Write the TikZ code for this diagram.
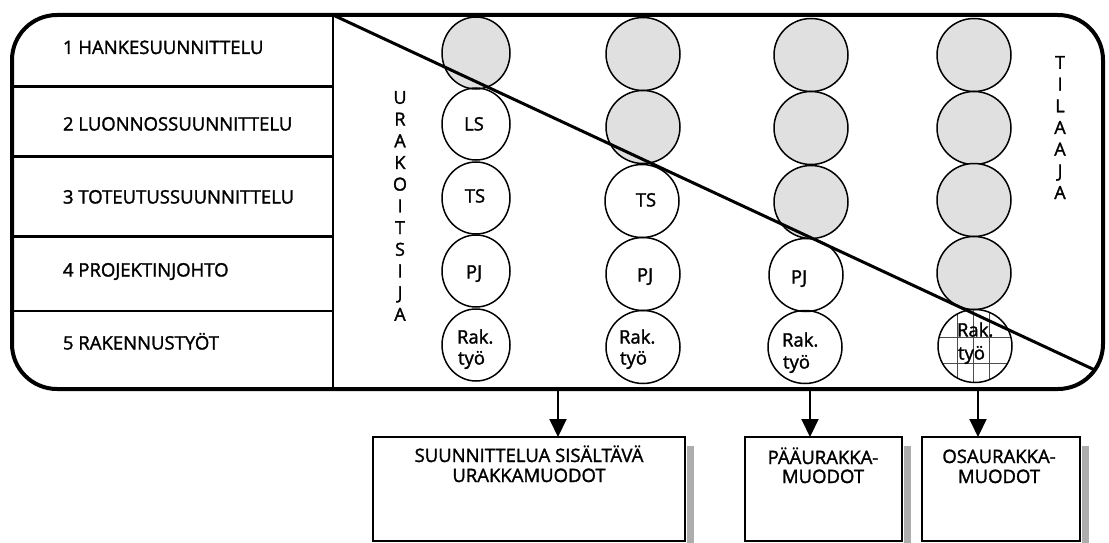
\documentclass[tikz,border=0pt]{standalone}
\usepackage{fontspec}
\setmainfont{Open Sans}[FakeBold=1.6]
\usetikzlibrary{shapes.geometric,arrows.meta}
\definecolor{shade}{gray}{0.88}
\definecolor{shadow}{gray}{0.68}
\begin{document}
\begin{tikzpicture}[x=1pt,y=-1pt,
  txt/.style={font=\fontsize{18.5}{21.7}\selectfont, inner sep=0pt, outer sep=0pt, text height=13pt, text depth=0pt},
  btxt/.style={font=\fontsize{18.5}{21.7}\selectfont, inner sep=0pt, outer sep=0pt, anchor=base},
  vtxt/.style={font=\fontsize{18}{21.7}\selectfont, inner sep=0pt, outer sep=0pt, align=center, anchor=north},
  ball/.style={draw, ellipse, line width=1.5pt, minimum width=74pt, minimum height=73pt, inner sep=0pt, outer sep=0pt},
  nball/.style={ball, minimum width=68pt, minimum height=72pt},
  gball/.style={ball, fill=shade},
  gnball/.style={nball, fill=shade},
  rowline/.style={line width=2.2pt},
  diag/.style={line width=3pt},
  outbox/.style={draw, line width=2.5pt, fill=white, inner sep=0pt, outer sep=0pt, minimum height=104pt},
  arr/.style={line width=2pt, -{Triangle[length=18pt,width=17pt]}},
  gridl/.style={line width=0.9pt, black!70}
]
\useasboundingbox (0,0) rectangle (1109,543);

% left column rows
\draw[rowline] (12,86.5) -- (333,86.5);
\draw[rowline] (12,156.5) -- (333,156.5);
\draw[rowline] (12,236.5) -- (333,236.5);
\draw[rowline] (12,311) -- (333,311);
\draw[rowline] (333,15) -- (333,389);

\node[txt, anchor=west] (l1) at (63,47.5) {1 HANKESUUNNITTELU};
\node[txt, anchor=west] (l2) at (63,124) {2 LUONNOSSUUNNITTELU};
\node[txt, anchor=west] (l3) at (63,197) {3 TOTEUTUSSUUNNITTELU};
\node[txt, anchor=west] (l4) at (63,270) {4 PROJEKTINJOHTO};
\node[txt, anchor=west] (l5) at (63,343) {5 RAKENNUSTYÖT};

% vertical words
\node[vtxt] (urak) at (400,91) {U\\R\\A\\K\\O\\I\\T\\S\\I\\J\\A};
\node[vtxt] (tilaaja) at (1060,56) {T\\I\\L\\A\\A\\J\\A};

% column 1
\node[gnball] (c11) at (476,53) {};
\node[nball] (c12) at (476,124) {};
\node[nball] (c13) at (476,198) {};
\node[nball] (c14) at (476,271) {};
\node[nball] (c15) at (476,345) {};
% column 2
\node[gball] (c21) at (643,54) {};
\node[gball] (c22) at (643,127) {};
\node[ball] (c23) at (642,201) {};
\node[ball] (c24) at (643,274) {};
\node[ball] (c25) at (643,347) {};
% column 3
\node[gball] (c31) at (811,55) {};
\node[gball] (c32) at (811,128) {};
\node[gball] (c33) at (811,202) {};
\node[ball] (c34) at (806,275) {};
\node[ball] (c35) at (805,347) {};
% column 4
\node[gball] (c41) at (974,55) {};
\node[gball] (c42) at (974,128) {};
\node[gball] (c43) at (974,200) {};
\node[gball] (c44) at (974,273) {};
\node[ball, path picture={
    \draw[gridl] (-18,-50) -- (-18,50) (-2,-50) -- (-2,50) (14,-50) -- (14,50)
                 (-50,-9) -- (50,-9) (-50,17) -- (50,17);
  }] (c45) at (975,346) {};

% circle texts
\node[txt] (t12) at (474,124) {LS};
\node[txt] (t13) at (475,196) {TS};
\node[txt] (t14) at (474,272) {PJ};
\node[txt, anchor=west] (t15a) at (457,337) {Rak.};
\node[txt, anchor=west] (t15b) at (458,358) {työ};
\node[txt] (t23) at (646,200) {TS};
\node[txt] (t24) at (645,275) {PJ};
\node[txt, anchor=west] (t25a) at (619,337) {Rak.};
\node[txt, anchor=west] (t25b) at (620,358) {työ};
\node[txt] (t34) at (799,277) {PJ};
\node[txt, anchor=west] (t35a) at (782,340) {Rak.};
\node[txt, anchor=west] (t35b) at (783,362) {työ};
\node[txt, anchor=west] (t45a) at (957,330) {Rak.};
\node[txt, anchor=west] (t45b) at (958,353) {työ};

% diagonal
\begin{scope}
  \clip[rounded corners=45pt] (12,15) rectangle (1103,389);
  \draw[diag] (333,15) -- (1180,409.7);
\end{scope}

% outer frame
\node[draw, line width=4pt, rounded corners=45pt, minimum width=1091pt, minimum height=374pt, inner sep=0pt, outer sep=0pt] (frame) at (557.5,202) {};

% lower boxes with shadows
\fill[shadow] (687,446) rectangle (694,543);
\fill[shadow] (904,446) rectangle (911,543);
\fill[shadow] (1082,446) rectangle (1089,543);
\node[outbox, minimum width=312pt] (b1) at (529,489) {};
\node[outbox, minimum width=157pt] (b2) at (823.5,489) {};
\node[outbox, minimum width=158pt] (b3) at (1001,489) {};

\node[btxt] (b1a) at (529,462) {SUUNNITTELUA SISÄLTÄVÄ};
\node[btxt] (b1b) at (529,482) {URAKKAMUODOT};
\node[btxt] (b2a) at (823,464) {PÄÄURAKKA-};
\node[btxt] (b2b) at (823,483) {MUODOT};
\node[btxt] (b3a) at (999,463) {OSAURAKKA-};
\node[btxt] (b3b) at (999,483) {MUODOT};

% arrows
\coordinate (a1) at (558,389);
\coordinate (a2) at (810,389);
\coordinate (a3) at (978,389);
\draw[arr] (a1) -- (a1 |- b1.north);
\draw[arr] (a2) -- (a2 |- b2.north);
\draw[arr] (a3) -- (a3 |- b3.north);
\end{tikzpicture}
\end{document}
